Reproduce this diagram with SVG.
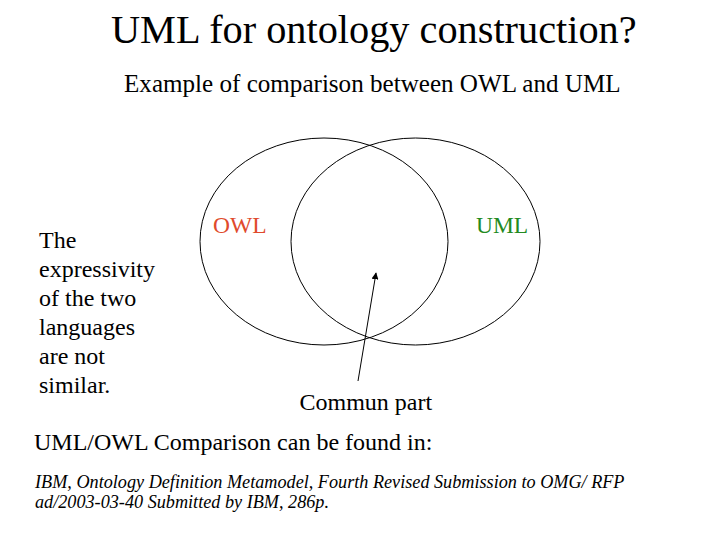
<svg xmlns="http://www.w3.org/2000/svg" width="728" height="546" viewBox="0 0 728 546" font-family="'Liberation Serif', 'Times New Roman', serif">
<style>
.t{font-family:'Liberation Serif','Times New Roman',serif;fill:#000}
.set{fill:none;stroke:#000;stroke-width:1}
.conn{stroke:#000;stroke-width:1;fill:none}
</style>
<defs>
<marker id="ah" viewBox="0 0 10 10" refX="9" refY="5" markerWidth="7" markerHeight="7" orient="auto" markerUnits="userSpaceOnUse">
<path d="M0,0 L10,5 L0,10 z" fill="#000"/>
</marker>
</defs>
<rect width="728" height="546" fill="#fff"/>
<text class="t" x="111" y="43" font-size="40.3">UML for ontology construction?</text>
<text class="t" x="124" y="92" font-size="25.1">Example of comparison between OWL and UML</text>
<g id="owl">
<ellipse class="set" cx="324" cy="241.5" rx="124" ry="103.5"/>
<text class="t" x="213" y="233" font-size="23.5" style="fill:#e04a2c">OWL</text>
</g>
<g id="uml">
<ellipse class="set" cx="415.5" cy="241.5" rx="124.5" ry="103.5"/>
<text class="t" x="476" y="233" font-size="23.5" style="fill:#238a22">UML</text>
</g>
<g id="commun">
<text class="t" x="299.5" y="410" font-size="24">Commun part</text>
</g>
<g id="connectors">
<line class="conn" x1="358" y1="381" x2="376" y2="273" marker-end="url(#ah)"/>
</g>
<g id="note">
<text class="t" font-size="24">
<tspan x="39" y="248">The</tspan>
<tspan x="39" y="277">expressivity</tspan>
<tspan x="39" y="306">of the two</tspan>
<tspan x="39" y="335">languages</tspan>
<tspan x="39" y="364">are not</tspan>
<tspan x="39" y="393">similar.</tspan>
</text>
</g>
<text class="t" x="34" y="450" font-size="24">UML/OWL Comparison can be found in:</text>
<text class="t" font-size="18.2" font-style="italic">
<tspan x="35" y="488">IBM, Ontology Definition Metamodel, Fourth Revised Submission to OMG/ RFP</tspan>
<tspan x="35" y="508">ad/2003-03-40 Submitted by IBM, 286p.</tspan>
</text>
</svg>
